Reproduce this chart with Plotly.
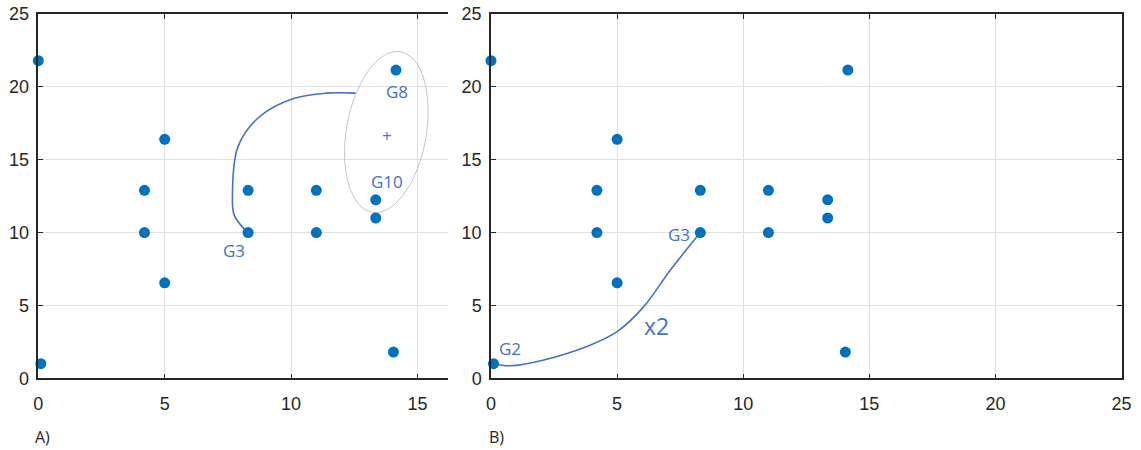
import numpy as np
import plotly.graph_objects as go

# ---- data ----
x_pts = [0.0, 0.1, 5.0, 4.2, 4.2, 5.0, 8.3, 8.3, 11.0, 11.0, 13.35, 13.35, 14.15, 14.05]
y_pts = [21.8, 1.0, 16.4, 12.9, 10.0, 6.55, 12.9, 10.0, 12.9, 10.0, 12.25, 11.0, 21.15, 1.8]

# link curve in panel A (G3 -> cluster G8/G10)
link_a_x = [8.2, 7.75, 7.68, 7.9, 8.75, 10.1, 11.4, 12.55]
link_a_y = [10.15, 11.2, 12.5, 15.9, 17.95, 19.2, 19.57, 19.57]

# link curve in panel B (G2 -> G3)
link_b_x = [0.1, 0.75, 2.1, 3.9, 5.0, 6.05, 7.1, 8.3]
link_b_y = [1.0, 0.86, 1.26, 2.25, 3.2, 4.9, 7.4, 10.0]

# cluster ellipse (centre in data units)
ell_center = (13.77, 16.9)

x_ticks_a = [0, 5, 10, 15]
x_ticks_b = [0, 5, 10, 15, 20, 25]
y_ticks = [0, 5, 10, 15, 20, 25]

# ---- style ----
PT = "#0072BD"
ANN = "#4472C4"
AX = "#262626"
GRID = "#dfdfdf"

fig = go.Figure()

# ellipse (computed in pixel space so its tilt matches the picture)
px_x, px_y = 25.27, 14.57  # pixels per unit
a_px, b_px, th = 81.5, 40.0, np.deg2rad(10)
t = np.linspace(0, 2 * np.pi, 200)
u = a_px * np.cos(t)
v = b_px * np.sin(t)
dpx = u * np.sin(th) + v * np.cos(th)
dpy = -u * np.cos(th) + v * np.sin(th)
ex = ell_center[0] + dpx / px_x
ey = ell_center[1] - dpy / px_y
fig.add_trace(go.Scatter(x=ex, y=ey, mode="lines", line=dict(color="#c4c4c4", width=1),
                         xaxis="x", yaxis="y", hoverinfo="skip", showlegend=False))

fig.add_trace(go.Scatter(x=link_a_x, y=link_a_y, mode="lines",
                         line=dict(color=ANN, width=1.6, shape="spline", smoothing=1.0),
                         xaxis="x", yaxis="y", hoverinfo="skip", showlegend=False))
fig.add_trace(go.Scatter(x=link_b_x, y=link_b_y, mode="lines",
                         line=dict(color=ANN, width=1.6, shape="spline", smoothing=1.0),
                         xaxis="x2", yaxis="y2", hoverinfo="skip", showlegend=False))

for xa, ya in (("x", "y"), ("x2", "y2")):
    fig.add_trace(go.Scatter(x=x_pts, y=y_pts, mode="markers",
                             marker=dict(color=PT, size=11, line=dict(width=0)),
                             xaxis=xa, yaxis=ya, showlegend=False, cliponaxis=False))

tickfont = dict(family="Liberation Sans, Arial, sans-serif", size=18, color=AX)
common = dict(showgrid=True, gridcolor=GRID, gridwidth=1, zeroline=False,
              showline=True, linecolor=AX, linewidth=1.5, ticks="inside",
              ticklen=5, tickcolor=AX, tickwidth=1, tickfont=tickfont,
              automargin=False, layer="above traces")

fig.update_layout(
    width=1141, height=450,
    margin=dict(l=0, r=0, t=0, b=0, pad=0),
    plot_bgcolor="white", paper_bgcolor="white",
    xaxis=dict(domain=[38.3 / 1141, 448.3 / 1141], range=[0, 16.22], tickvals=x_ticks_a,
               mirror="ticks", anchor="y", ticklabelstandoff=8, **common),
    yaxis=dict(domain=[1 - 378.3 / 450, 1 - 14 / 450], range=[0, 25], tickvals=y_ticks,
               mirror=False, anchor="x", ticklabelstandoff=4, **common),
    xaxis2=dict(domain=[491 / 1141, 1121.5 / 1141], range=[0, 25], tickvals=x_ticks_b,
                mirror="ticks", anchor="y2", ticklabelstandoff=8, **common),
    yaxis2=dict(domain=[1 - 378.3 / 450, 1 - 14 / 450], range=[0, 25], tickvals=y_ticks,
                mirror="ticks", anchor="x2", ticklabelstandoff=4, **common),
)

lab = dict(family="Open Sans, sans-serif", size=17, color=ANN)
annots = [
    ("x", "y", 7.76, 8.76, "G3", lab),
    ("x", "y", 14.18, 19.67, "G8", lab),
    ("x", "y", 13.79, 13.5, "G10", lab),
    ("x", "y", 13.81, 16.63, "+", dict(lab, size=17)),
    ("x2", "y2", 0.75, 2.06, "G2", lab),
    ("x2", "y2", 7.47, 9.88, "G3", lab),
    ("x2", "y2", 6.55, 3.59, "x2", dict(lab, size=23)),
]
for xr, yr, x, y, txt, f in annots:
    fig.add_annotation(x=x, y=y, xref=xr, yref=yr, text=txt, showarrow=False,
                       font=f, xanchor="center", yanchor="middle")

panel_font = dict(family="Open Sans, sans-serif", size=16, color=AX)
fig.add_annotation(x=33 / 1141, y=1 - 436.7 / 450, xref="paper", yref="paper", text="A)",
                   showarrow=False, font=panel_font, xanchor="left", yanchor="middle")
fig.add_annotation(x=487 / 1141, y=1 - 436.7 / 450, xref="paper", yref="paper", text="B)",
                   showarrow=False, font=panel_font, xanchor="left", yanchor="middle")

fig.write_html("out.html")
